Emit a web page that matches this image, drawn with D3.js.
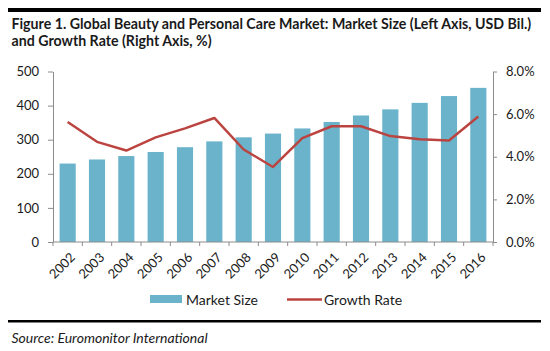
<!DOCTYPE html>
<html>
<head>
<meta charset="utf-8">
<script src="https://cdn.jsdelivr.net/npm/d3@7"></script>
<style>
  body { margin: 0; background: #fff; }
  text { font-family: Lato, "Open Sans", sans-serif; fill: #1a1a1a; }
</style>
</head>
<body>
<div id="main"></div>
<script>
const ctx = {
    w: 550,
    h: 351,
    barColor: '#6ab3cb',
    lineColor: '#bb4440',
    axisColor: '#8c8c8c'
};

// chart values
const years = ['2002', '2003', '2004', '2005', '2006', '2007', '2008', '2009',
               '2010', '2011', '2012', '2013', '2014', '2015', '2016'];
const marketSize = [230, 242, 252, 264, 278, 295, 307, 318, 333, 352, 371, 389, 408, 428, 452];
const growthRate = [5.63, 4.70, 4.29, 4.91, 5.33, 5.82, 4.34, 3.52, 4.87, 5.43, 5.43, 4.97, 4.82, 4.76, 5.89];
const leftTicks = [0, 100, 200, 300, 400, 500];
const rightTicks = [0, 2, 4, 6, 8];
const titleLines = ['Figure 1. Global Beauty and Personal Care Market: Market Size (Left Axis, USD Bil.)',
                    'and Growth Rate (Right Axis, %)'];
const legendLabels = ['Market Size', 'Growth Rate'];
const sourceText = 'Source: Euromonitor International';

const plot = { left: 53, right: 493, top: 71.5, bottom: 242 };

function createViz() {
    const svg = d3.select('#main').append('svg')
        .attr('width', ctx.w)
        .attr('height', ctx.h);

    // black rules top and bottom
    svg.append('rect').attr('x', 8).attr('y', 8).attr('width', 533).attr('height', 4).attr('fill', '#000');
    svg.append('rect').attr('x', 8).attr('y', 320).attr('width', 533).attr('height', 2.5).attr('fill', '#000');

    // title
    svg.append('g').selectAll('text')
        .data(titleLines)
        .enter().append('text')
        .attr('x', 11.5)
        .attr('y', (d, i) => 29 + i * 17)
        .style('font-size', '14.2px')
        .style('font-weight', 'bold')
        .text(d => d);

    const x = d3.scaleBand()
        .domain(years)
        .range([plot.left, plot.right])
        .paddingInner(0.45)
        .paddingOuter(0.225);

    const y = d3.scaleLinear().domain([0, 500]).range([plot.bottom, plot.top]);
    const y2 = d3.scaleLinear().domain([0, 8]).range([plot.bottom, plot.top]);

    // bars
    svg.append('g')
        .selectAll('rect')
        .data(marketSize)
        .enter().append('rect')
        .attr('x', (d, i) => x(years[i]))
        .attr('y', d => y(d))
        .attr('width', x.bandwidth())
        .attr('height', d => y(0) - y(d))
        .attr('fill', ctx.barColor);

    // growth line
    const line = d3.line()
        .x((d, i) => x(years[i]) + x.bandwidth() / 2)
        .y(d => y2(d));
    svg.append('path')
        .datum(growthRate)
        .attr('d', line)
        .attr('fill', 'none')
        .attr('stroke', ctx.lineColor)
        .attr('stroke-width', 2.5)
        .attr('stroke-linejoin', 'round');

    // left axis
    const axL = svg.append('g')
        .attr('transform', `translate(${plot.left},0)`)
        .call(d3.axisLeft(y).tickValues(leftTicks).tickSize(5).tickPadding(9).tickSizeOuter(0));
    // right axis
    const axR = svg.append('g')
        .attr('transform', `translate(${plot.right},0)`)
        .call(d3.axisRight(y2).tickValues(rightTicks).tickSize(4).tickPadding(9).tickSizeOuter(0)
            .tickFormat(d => d.toFixed(1) + '%'));
    [axL, axR].forEach(ax => {
        ax.select('.domain').attr('stroke', ctx.axisColor);
        ax.selectAll('.tick line').attr('stroke', ctx.axisColor);
        ax.selectAll('.tick text').style('font-size', '13px').style('font-family', 'Lato').attr('fill', '#1a1a1a');
    });

    // bottom axis with ticks on category boundaries
    const bottom = svg.append('g');
    bottom.append('line')
        .attr('x1', plot.left).attr('x2', plot.right)
        .attr('y1', plot.bottom).attr('y2', plot.bottom)
        .attr('stroke', ctx.axisColor);
    const step = x.step();
    bottom.selectAll('.btick')
        .data(years.concat(['end']))
        .enter().append('line')
        .attr('class', 'btick')
        .attr('x1', (d, i) => plot.left + i * step)
        .attr('x2', (d, i) => plot.left + i * step)
        .attr('y1', plot.bottom)
        .attr('y2', plot.bottom + 4)
        .attr('stroke', ctx.axisColor);
    bottom.selectAll('.blabel')
        .data(years)
        .enter().append('text')
        .attr('class', 'blabel')
        .attr('text-anchor', 'end')
        .attr('transform', d => `translate(${x(d) + x.bandwidth() / 2 + 5},${plot.bottom + 13}) rotate(-45)`)
        .attr('dy', '0.35em')
        .style('font-size', '13px')
        .text(d => d);

    // legend
    const leg = svg.append('g');
    leg.append('rect').attr('x', 150).attr('y', 295).attr('width', 32).attr('height', 8).attr('fill', ctx.barColor);
    leg.append('text').attr('x', 186).attr('y', 304.5).style('font-size', '14px').text(legendLabels[0]);
    leg.append('line').attr('x1', 287).attr('x2', 322).attr('y1', 299.5).attr('y2', 299.5)
        .attr('stroke', ctx.lineColor).attr('stroke-width', 2.5);
    leg.append('text').attr('x', 324).attr('y', 304.5).style('font-size', '14px').text(legendLabels[1]);

    // source
    svg.append('text')
        .attr('x', 11.5)
        .attr('y', 343)
        .style('font-size', '14px')
        .style('font-style', 'italic')
        .text(sourceText);
}

createViz();
</script>
</body>
</html>
